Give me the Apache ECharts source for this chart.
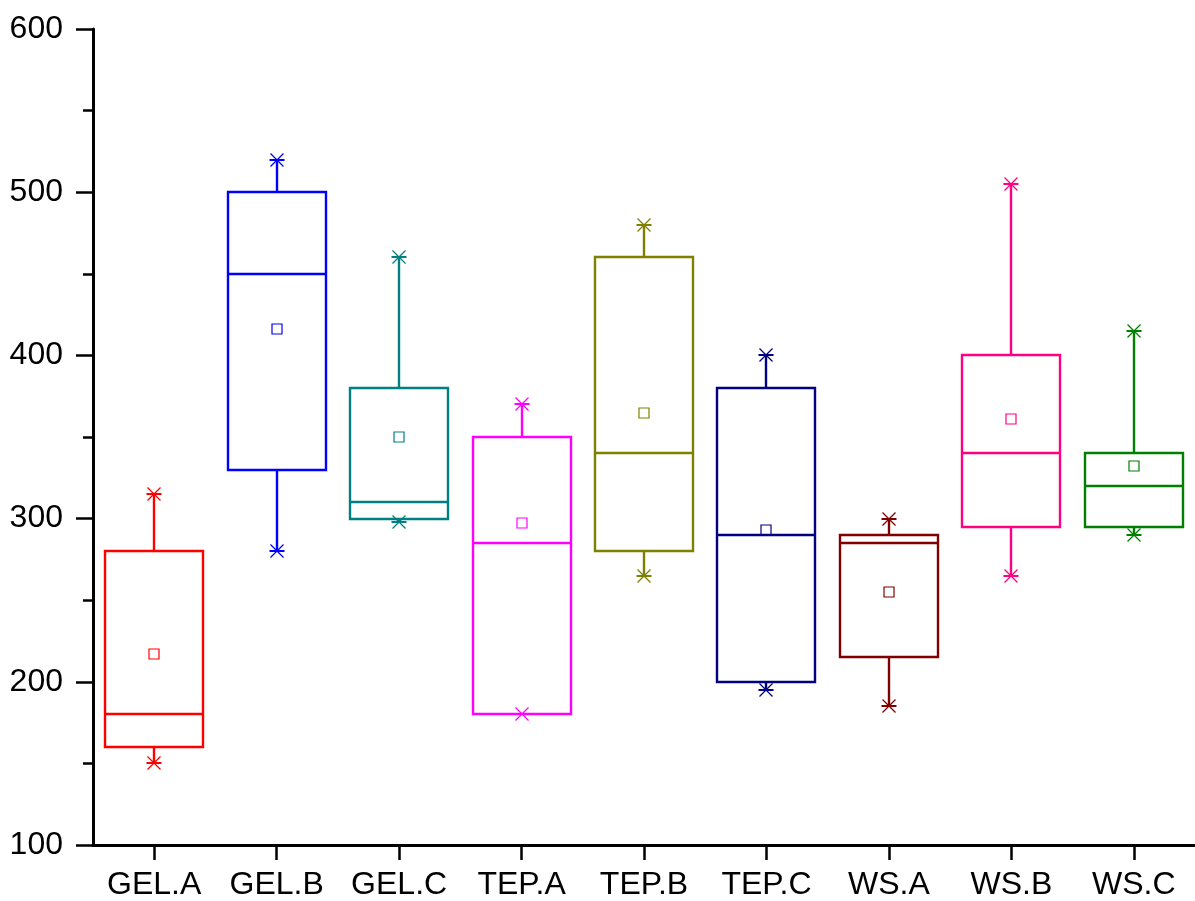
<!DOCTYPE html>
<html>
<head>
<meta charset="utf-8">
<script src="https://cdn.jsdelivr.net/npm/echarts@6/dist/echarts.min.js"></script>
<style>
html,body{margin:0;padding:0;background:#fff;}
#chart{width:1195px;height:901px;}
</style>
</head>
<body>
<div id="chart"></div>
<script>
const categories = ['GEL.A','GEL.B','GEL.C','TEP.A','TEP.B','TEP.C','WS.A','WS.B','WS.C'];
const mins    = [150, 280, 298, 180, 265, 195, 185, 265, 290];
const q1s     = [160, 330, 300, 180, 280, 200, 215, 295, 295];
const medians = [180, 450, 310, 285, 340, 290, 285, 340, 320];
const q3s     = [280, 500, 380, 350, 460, 380, 290, 400, 340];
const maxs    = [315, 520, 460, 370, 480, 400, 300, 505, 415];
const means   = [217, 416, 350, 297, 365, 293, 255, 361, 332];
const colors  = ['#FF0000','#0000FF','#008080','#FF00FF','#808000','#000080','#800000','#FF0080','#008000'];
const yTicks = [100, 600, 100]; // min, max, interval

const data = categories.map((c, i) => [i, mins[i], q1s[i], medians[i], q3s[i], maxs[i], means[i]]);

function star(cx, cy, color) {
  const s = 7.5, d = 6.5;
  return [
    {type:'line', shape:{x1:cx-s,y1:cy,x2:cx+s,y2:cy}, style:{stroke:color,lineWidth:2}},
    {type:'line', shape:{x1:cx-d,y1:cy-d,x2:cx+d,y2:cy+d}, style:{stroke:color,lineWidth:1.2}},
    {type:'line', shape:{x1:cx-d,y1:cy+d,x2:cx+d,y2:cy-d}, style:{stroke:color,lineWidth:1.2}}
  ];
}

function renderItem(params, api) {
  const i = api.value(0);
  const color = colors[i];
  const R = Math.round;
  const yMin = R(api.coord([i, api.value(1)])[1]);
  const yQ1 = R(api.coord([i, api.value(2)])[1]);
  const yMed = R(api.coord([i, api.value(3)])[1]);
  const yQ3 = R(api.coord([i, api.value(4)])[1]);
  const yMax = R(api.coord([i, api.value(5)])[1]);
  const pMean = api.coord([i, api.value(6)]);
  const bandW = api.size([1, 0])[0];
  const hw = R(bandW * 0.4);
  const cx = R(api.coord([i, api.value(2)])[0]);
  const lw = 2.4;
  const children = [
    {type:'line', shape:{x1:cx,y1:yQ3,x2:cx,y2:yMax}, style:{stroke:color,lineWidth:lw}},
    {type:'line', shape:{x1:cx,y1:yQ1,x2:cx,y2:yMin}, style:{stroke:color,lineWidth:lw}},
    {type:'rect', shape:{x:cx-hw,y:yQ3,width:2*hw,height:yQ1-yQ3}, style:{fill:'none',stroke:color,lineWidth:lw}},
    {type:'line', shape:{x1:cx-hw,y1:yMed,x2:cx+hw,y2:yMed}, style:{stroke:color,lineWidth:lw}},
    {type:'rect', shape:{x:R(pMean[0])-5,y:R(pMean[1])-5,width:10,height:10}, style:{fill:'none',stroke:color,lineWidth:1.2}}
  ].concat(star(cx, yMax, color), star(cx, yMin, color));
  return {type:'group', children};
}

const chart = echarts.init(document.getElementById('chart'), null, {renderer:'canvas'});
chart.setOption({
  animation:false,
  backgroundColor:'#fff',
  grid:{left:93, right:0, top:29, bottom:54, containLabel:false},
  xAxis:{
    type:'category', data:categories,
    axisLine:{show:true, lineStyle:{color:'#000',width:3}},
    axisTick:{show:true, interval:0, alignWithLabel:true, inside:false, length:15, lineStyle:{color:'#000',width:2.5}},
    axisLabel:{color:'#000', fontSize:32, fontFamily:'Liberation Sans', margin:24, interval:0},
    splitLine:{show:false}
  },
  yAxis:{
    type:'value', min:yTicks[0], max:yTicks[1], interval:yTicks[2],
    axisLine:{show:true, lineStyle:{color:'#000',width:3}},
    axisTick:{show:true, inside:false, length:17, lineStyle:{color:'#000',width:2.5}},
    minorTick:{show:true, splitNumber:2, length:10, lineStyle:{color:'#000',width:2.5}},
    axisLabel:{color:'#000', fontSize:32, fontFamily:'Liberation Sans', margin:30},
    splitLine:{show:false}
  },
  series:[{
    type:'custom', renderItem, data, clip:false,
    encode:{x:0, y:[1,5]}
  }]
});
</script>
</body>
</html>
